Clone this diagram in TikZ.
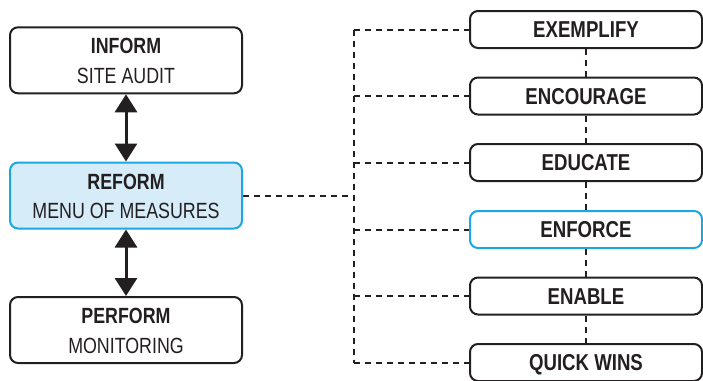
\documentclass[tikz,border=0pt]{standalone}
\usepackage{fontspec}
\setmainfont[FakeStretch=0.81]{Liberation Sans}
\usetikzlibrary{arrows.meta}
\definecolor{cyanline}{RGB}{27,168,226}
\definecolor{cyanfill}{RGB}{214,236,249}
\definecolor{ink}{RGB}{35,31,32}
\tikzset{
  leftbox/.style={draw=ink, line width=2pt, rounded corners=8pt, minimum width=232pt, minimum height=66pt, inner sep=0pt},
  titletext/.style={anchor=base, text=ink, font=\fontsize{22}{26}\selectfont\bfseries},
  subtext/.style={anchor=base, text=ink, font=\fontsize{22}{26}\selectfont},
  rightbox/.style={draw=ink, text=ink, line width=2pt, rounded corners=8pt, minimum width=232pt, minimum height=37pt, inner sep=0pt, text height=16.5pt, text depth=0pt, font=\fontsize{23}{26}\selectfont\bfseries},
  hl/.style={draw=cyanline},
  dashline/.style={line width=2pt, dash pattern=on 6pt off 5pt, ink},
  dblarrow/.style={line width=3pt, ink, {Triangle[width=22pt,length=18pt]}-{Triangle[width=22pt,length=18pt]}}
}
\begin{document}
\begin{tikzpicture}[x=1pt,y=-1pt]
\useasboundingbox (0,0) rectangle (703,380);
\node[leftbox] (inform) at (126,60.3) {};
\node[titletext, yshift=6.5pt] (informT) at (inform.center) {INFORM};
\node[subtext, yshift=-23pt] (informS) at (inform.center) {SITE AUDIT};
\node[leftbox, hl, fill=cyanfill] (reform) at (126,195.5) {};
\node[titletext, yshift=6.5pt] (reformT) at (reform.center) {REFORM};
\node[subtext, yshift=-23pt] (reformS) at (reform.center) {MENU OF MEASURES};
\node[leftbox] (perform) at (126,330) {};
\node[titletext, yshift=6.5pt] (performT) at (perform.center) {PERFORM};
\node[subtext, yshift=-23pt] (performS) at (perform.center) {MONITORING};
\draw[dblarrow] (inform.south) -- (reform.north);
\draw[dblarrow] (reform.south) -- (perform.north);

\node[rightbox] (ex) at (586,29.5) {EXEMPLIFY};
\node[rightbox] (enc) at (586,96) {ENCOURAGE};
\node[rightbox] (edu) at (586,162.5) {EDUCATE};
\node[rightbox, hl] (enf) at (586,229.5) {ENFORCE};
\node[rightbox] (ena) at (586,296) {ENABLE};
\node[rightbox] (qw) at (586,362.5) {QUICK WINS};

\coordinate (spine) at (354,195.5);
\draw[dashline] (reform.east) -- (spine);
\draw[dashline] (spine |- ex.west) -- (spine |- qw.west);
\foreach \n in {ex,enc,edu,enf,ena,qw}{
  \draw[dashline] (spine |- \n.west) -- (\n.west);
}
\draw[dashline] (ex.south) -- (enc.north);
\draw[dashline] (enc.south) -- (edu.north);
\draw[dashline] (edu.south) -- (enf.north);
\draw[dashline] (enf.south) -- (ena.north);
\draw[dashline] (ena.south) -- (qw.north);
\end{tikzpicture}
\end{document}
